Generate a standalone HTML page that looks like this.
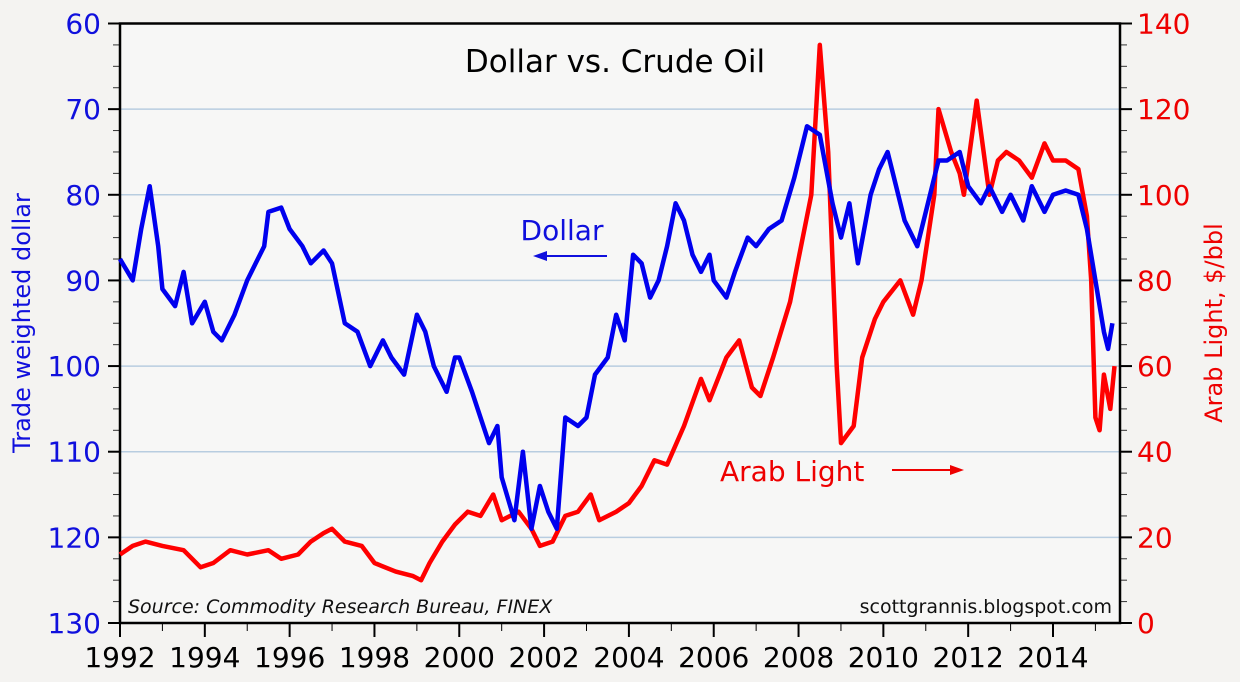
<!DOCTYPE html>
<html><head><meta charset="utf-8"><style>
body{margin:0;background:#f4f3f1;}
svg{display:block;font-family:"DejaVu Sans","Liberation Sans",sans-serif;}
</style></head><body>
<svg id="chart" width="1240" height="682">
<rect x="120" y="23.5" width="1000" height="599.5" fill="#f7f7f6"/>
<g id="grid"></g><g id="axes"></g><g id="series"></g>
<text x="615" y="72" font-size="31" text-anchor="middle" fill="#000">Dollar vs. Crude Oil</text>
<text x="562" y="240" font-size="28" text-anchor="middle" fill="#1010dd">Dollar</text>
<g><line x1="607" y1="256" x2="545" y2="256" stroke="#1010dd" stroke-width="2"/><polygon points="533,256 547,251 547,261" fill="#1010dd"/></g>
<text x="720" y="481" font-size="28" fill="#e00">Arab Light</text>
<g><line x1="892" y1="470" x2="952" y2="470" stroke="#e00" stroke-width="2"/><polygon points="964,470 950,465 950,475" fill="#e00"/></g>
<text x="128" y="613" font-size="19" font-style="italic" fill="#111">Source: Commodity Research Bureau, FINEX</text>
<text x="1112" y="613" font-size="19" text-anchor="end" fill="#111">scottgrannis.blogspot.com</text>
<text transform="translate(30,323) rotate(-90)" font-size="24" text-anchor="middle" fill="#1010dd">Trade weighted dollar</text>
<text transform="translate(1222,323) rotate(-90)" font-size="24" text-anchor="middle" fill="#e00">Arab Light, $/bbl</text>
</svg>
<script>
const xYears=[1992,1994,1996,1998,2000,2002,2004,2006,2008,2010,2012,2014];
const leftTicks=[60,70,80,90,100,110,120,130];
const rightTicks=[0,20,40,60,80,100,120,140];
const dollarT=[1992.0,1992.3,1992.5,1992.7,1992.9,1993.0,1993.3,1993.5,1993.7,1994.0,1994.2,1994.4,1994.7,1995.0,1995.2,1995.4,1995.5,1995.8,1996.0,1996.3,1996.5,1996.8,1997.0,1997.3,1997.6,1997.9,1998.2,1998.4,1998.7,1999.0,1999.2,1999.4,1999.7,1999.9,2000.0,2000.3,2000.5,2000.7,2000.9,2001.0,2001.3,2001.5,2001.7,2001.9,2002.1,2002.3,2002.5,2002.8,2003.0,2003.2,2003.5,2003.7,2003.9,2004.1,2004.3,2004.5,2004.7,2004.9,2005.1,2005.3,2005.5,2005.7,2005.9,2006.0,2006.3,2006.5,2006.8,2007.0,2007.3,2007.6,2007.9,2008.2,2008.5,2008.8,2009.0,2009.2,2009.4,2009.7,2009.9,2010.1,2010.3,2010.5,2010.8,2011.0,2011.3,2011.5,2011.8,2012.0,2012.3,2012.5,2012.8,2013.0,2013.3,2013.5,2013.8,2014.0,2014.3,2014.6,2014.8,2015.0,2015.2,2015.3,2015.4];
const dollarV=[87.5,90,84,79,86,91,93,89,95,92.5,96,97,94,90,88,86,82,81.5,84,86,88,86.5,88,95,96,100,97,99,101,94,96,100,103,99,99,103,106,109,107,113,118,110,119,114,117,119,106,107,106,101,99,94,97,87,88,92,90,86,81,83,87,89,87,90,92,89,85,86,84,83,78,72,73,81,85,81,88,80,77,75,79,83,86,82,76,76,75,79,81,79,82,80,83,79,82,80,79.5,80,84,90,96,98,95];
const oilT=[1992.0,1992.3,1992.6,1993.0,1993.5,1993.9,1994.2,1994.6,1995.0,1995.5,1995.8,1996.2,1996.5,1996.8,1997.0,1997.3,1997.7,1998.0,1998.5,1998.9,1999.1,1999.3,1999.6,1999.9,2000.2,2000.5,2000.8,2001.0,2001.4,2001.7,2001.9,2002.2,2002.5,2002.8,2003.1,2003.3,2003.7,2004.0,2004.3,2004.6,2004.9,2005.3,2005.7,2005.9,2006.3,2006.6,2006.9,2007.1,2007.4,2007.8,2008.0,2008.3,2008.5,2008.7,2008.9,2009.0,2009.3,2009.5,2009.8,2010.0,2010.4,2010.7,2010.9,2011.2,2011.3,2011.6,2011.8,2011.9,2012.2,2012.5,2012.7,2012.9,2013.2,2013.5,2013.8,2014.0,2014.3,2014.6,2014.8,2014.9,2015.0,2015.1,2015.2,2015.35,2015.45];
const oilV=[16,18,19,18,17,13,14,17,16,17,15,16,19,21,22,19,18,14,12,11,10,14,19,23,26,25,30,24,26,22,18,19,25,26,30,24,26,28,32,38,37,46,57,52,62,66,55,53,62,75,85,100,135,110,60,42,46,62,71,75,80,72,80,100,120,110,105,100,122,100,108,110,108,104,112,108,108,106,95,80,48,45,58,50,60];
const X0=120,X1=1120,Y0=23.5,Y1=623;
const xs=t=>X0+(t-1992)*(1053-X0)/22;
const yl=v=>Y0+(v-60)*(Y1-Y0)/70;
const yr=v=>Y1-v*(Y1-Y0)/140;
const NS='http://www.w3.org/2000/svg';
function mk(tag,attrs,parent,txt){const e=document.createElementNS(NS,tag);for(const k in attrs)e.setAttribute(k,attrs[k]);if(txt!==undefined)e.textContent=txt;parent.appendChild(e);return e;}
const grid=document.getElementById('grid'),axes=document.getElementById('axes'),ser=document.getElementById('series');
leftTicks.forEach(v=>{const y=yl(v);
 if(v>60&&v<130){const g=mk('line',{x1:X0,x2:X1,y1:y,y2:y,stroke:'#b8cde0','stroke-width':1.5},grid);
 
 }
 mk('line',{x1:X0-12,x2:X0,y1:y,y2:y,stroke:'#000','stroke-width':2},axes);
 const t=mk('text',{x:101,y:y+10,'font-size':28,'text-anchor':'end',fill:'#1010dd'},axes,v);
 
 
 if(v<130)for(let k=1;k<4;k++){const yy=yl(v+k*2.5);mk('line',{x1:X0-7,x2:X0,y1:yy,y2:yy,stroke:'#333','stroke-width':1},axes);}
});
rightTicks.forEach(v=>{const y=yr(v);
 mk('line',{x1:X1,x2:X1+12,y1:y,y2:y,stroke:'#000','stroke-width':2},axes);
 const t=mk('text',{x:1137,y:y+10,'font-size':28,fill:'#e00'},axes,v);
 
 
 if(v<140)for(let k=1;k<4;k++){const yy=yr(v+k*5);mk('line',{x1:X1,x2:X1+7,y1:yy,y2:yy,stroke:'#333','stroke-width':1},axes);}
});
for(let yr_=1992;yr_<=2015;yr_++){const x=xs(yr_);const maj=yr_%2===0;
 mk('line',{x1:x,x2:x,y1:Y1,y2:Y1+(maj?14:8),stroke:'#000','stroke-width':maj?2:1},axes);}
xYears.forEach(y=>{const t=mk('text',{x:xs(y),y:667,'font-size':28,'text-anchor':'middle',fill:'#000'},axes,y);
 
 });
const fr=mk('path',{d:`M${X0},${Y0}H${X1}V${Y1}H${X0}Z`,fill:'none',stroke:'#000','stroke-width':2.5},axes);


const oilP=mk('path',{d:oilT.map((t,i)=>(i?'L':'M')+xs(t).toFixed(1)+','+yr(oilV[i]).toFixed(1)).join(''),fill:'none',stroke:'#f00','stroke-width':4.5,'stroke-linejoin':'round'},ser);


const dP=mk('path',{d:dollarT.map((t,i)=>(i?'L':'M')+xs(t).toFixed(1)+','+yl(dollarV[i]).toFixed(1)).join(''),fill:'none',stroke:'#0000ee','stroke-width':4.5,'stroke-linejoin':'round'},ser);


</script>
</body></html>
